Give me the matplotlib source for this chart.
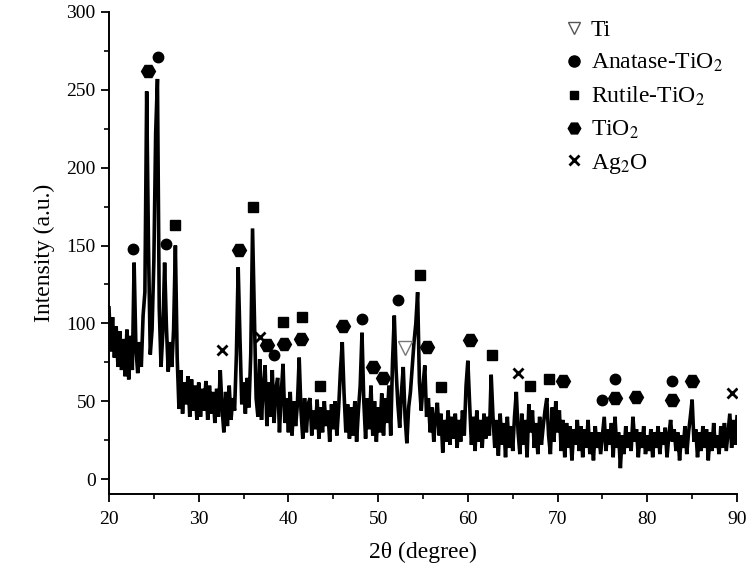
import numpy as np
import matplotlib
matplotlib.use("Agg")
import matplotlib.pyplot as plt
from matplotlib.lines import Line2D
from matplotlib.ticker import MultipleLocator

plt.rcParams['font.family'] = ['Liberation Serif', 'DejaVu Serif']
plt.rcParams['mathtext.fontset'] = 'stix'

# ---- data: 2theta grid (0.2 deg step) and intensities ----
two_theta_start, two_theta_stop, two_theta_step = 20.0, 90.0, 0.2
intensity = [
    110, 82, 104, 78, 98,     # 20
    72, 95, 70, 90, 66,       # 21
    96, 64, 92, 70, 139,      # 22
    84, 68, 88, 72, 105,      # 23
    120, 249, 150, 80, 96,    # 24
    140, 222, 257, 110, 72,   # 25
    94, 139, 98, 69, 88,      # 26
    72, 96, 150, 78, 45,      # 27
    70, 42, 62, 48, 66,       # 28
    40, 64, 44, 60, 38,       # 29
    62, 40, 58, 44, 63,       # 30
    38, 60, 42, 56, 36,       # 31
    58, 40, 70, 46, 30,       # 32
    56, 34, 60, 38, 52,       # 33
    44, 80, 136, 90, 48,      # 34
    62, 42, 65, 46, 80,       # 35
    161, 105, 52, 40, 77,     # 36
    38, 60, 73, 34, 62,       # 37
    40, 70, 36, 58, 65,       # 38
    30, 55, 74, 36, 52,       # 39
    30, 56, 28, 50, 34,       # 40
    48, 78, 44, 26, 52,       # 41
    30, 48, 52, 28, 44,       # 42
    32, 51, 26, 46, 30,       # 43
    50, 34, 44, 24, 48,       # 44
    32, 50, 28, 46, 70,       # 45
    88, 55, 30, 48, 26,       # 46
    46, 28, 50, 24, 44,       # 47
    60, 94, 50, 26, 52,       # 48
    32, 60, 28, 50, 24,       # 49
    46, 30, 55, 28, 52,       # 50
    36, 60, 28, 75, 105,      # 51
    70, 48, 33, 56, 72,       # 52
    40, 23, 46, 56, 72,       # 53
    88, 100, 120, 62, 44,     # 54
    60, 73, 40, 52, 30,       # 55
    46, 24, 40, 49, 28,       # 56
    42, 17, 38, 24, 44,       # 57
    22, 40, 26, 42, 20,       # 58
    38, 24, 44, 28, 60,       # 59
    76, 48, 22, 40, 18,       # 60
    44, 24, 38, 20, 42,       # 61
    26, 40, 28, 67, 40,       # 62
    20, 38, 15, 42, 22,       # 63
    36, 14, 40, 20, 34,       # 64
    18, 40, 56, 30, 16,       # 65
    42, 22, 38, 14, 48,       # 66
    30, 44, 20, 36, 16,       # 67
    40, 22, 34, 44, 52,       # 68
    28, 16, 46, 24, 50,       # 69
    30, 44, 18, 38, 14,       # 70
    36, 20, 34, 12, 32,       # 71
    22, 38, 18, 34, 14,       # 72
    32, 20, 38, 16, 30,       # 73
    12, 34, 20, 30, 16,       # 74
    28, 40, 18, 32, 22,       # 75
    36, 14, 40, 20, 30,       # 76
    7, 28, 16, 34, 20,        # 77
    30, 18, 40, 24, 32,       # 78
    14, 30, 20, 34, 16,       # 79
    28, 18, 32, 14, 30,       # 80
    20, 34, 16, 30, 22,       # 81
    33, 14, 28, 38, 24,       # 82
    32, 18, 30, 12, 28,       # 83
    20, 34, 16, 30, 40,       # 84
    51, 24, 32, 14, 30,       # 85
    18, 34, 20, 32, 12,       # 86
    30, 18, 36, 20, 28,       # 87
    16, 34, 20, 36, 18,       # 88
    30, 42, 20, 38, 22,       # 89
    40,                       # 90
]
two_theta = np.round(np.arange(two_theta_start, two_theta_stop + 1e-6, two_theta_step), 1)

# phase identification marks (position, height)
ti_x, ti_y = [53.0], [84]
anatase_x = [22.7, 25.5, 26.3, 38.4, 48.2, 52.2, 74.9, 76.4, 82.7]
anatase_y = [148, 271, 151, 80, 103, 115, 51, 64, 63]
rutile_x = [27.4, 36.0, 39.4, 41.5, 43.5, 54.7, 57.0, 62.7, 66.9, 69.1]
rutile_y = [163, 175, 101, 104, 60, 131, 59, 80, 60, 64]
tio2_x = [24.4, 34.5, 37.6, 39.5, 41.4, 46.1, 49.4, 50.5, 55.5, 60.2, 70.6, 76.4, 78.7, 82.7, 85.0]
tio2_y = [262, 147, 86, 87, 90, 98, 72, 65, 85, 89, 63, 52, 53, 51, 63]
ag2o_x = [32.6, 36.8, 65.6, 89.4]
ag2o_y = [83, 91, 68, 55]

legend_labels = ['Ti', 'Anatase-TiO$_2$', 'Rutile-TiO$_2$', 'TiO$_2$', 'Ag$_2$O']

fig = plt.figure(figsize=(7.48, 5.73), dpi=100)
ax = fig.add_axes([109/748, 1-494/573, (737-109)/748, (494-12)/573])

ax.plot(two_theta, intensity, color='black', lw=2.6, solid_joinstyle='miter')

ax.plot(ti_x, ti_y, ls='none', marker='v', ms=10, mfc='white', mec='#777777', mew=1.0)
ax.plot(anatase_x, anatase_y, ls='none', marker='o', ms=7.5, color='black')
ax.plot(rutile_x, rutile_y, ls='none', marker='s', ms=6.5, color='black')
ax.plot(tio2_x, tio2_y, ls='none', marker='H', ms=10, color='black')
ax.plot(ag2o_x, ag2o_y, ls='none', marker='x', ms=7, mew=2.0, color='black')

ax.set_xlim(20, 90)
ax.set_ylim(-9.6, 300)
ax.spines['top'].set_visible(False)
ax.spines['right'].set_visible(False)
for s in ('left', 'bottom'):
    ax.spines[s].set_linewidth(1.4)
ax.spines['left'].set_bounds(-9.6, 300)

ax.xaxis.set_major_locator(MultipleLocator(10))
ax.xaxis.set_minor_locator(MultipleLocator(5))
ax.yaxis.set_major_locator(MultipleLocator(50))
ax.yaxis.set_minor_locator(MultipleLocator(25))
ax.tick_params(which='major', direction='out', length=6, width=1.3, labelsize=14)
ax.tick_params(which='minor', direction='out', length=3.5, width=1.2)
ax.tick_params(axis='x', pad=6)

ax.set_xlabel('2θ (degree)', fontsize=17, labelpad=10)
ax.set_ylabel('Intensity (a.u.)', fontsize=17, labelpad=8)

handles = [
    Line2D([], [], ls='none', marker='v', ms=9, mfc='white', mec='#555555', mew=1.0),
    Line2D([], [], ls='none', marker='o', ms=8, color='black'),
    Line2D([], [], ls='none', marker='s', ms=6, color='black'),
    Line2D([], [], ls='none', marker='H', ms=9, color='black'),
    Line2D([], [], ls='none', marker='x', ms=7, mew=2.0, color='black'),
]
leg = fig.legend(handles, legend_labels, loc='upper left', bbox_to_anchor=(553/748, 1-8/573),
                 frameon=False, fontsize=17, handlelength=0.8, handletextpad=0.3,
                 labelspacing=0.45, borderpad=0.0)

fig.savefig('out.png', dpi=100)
